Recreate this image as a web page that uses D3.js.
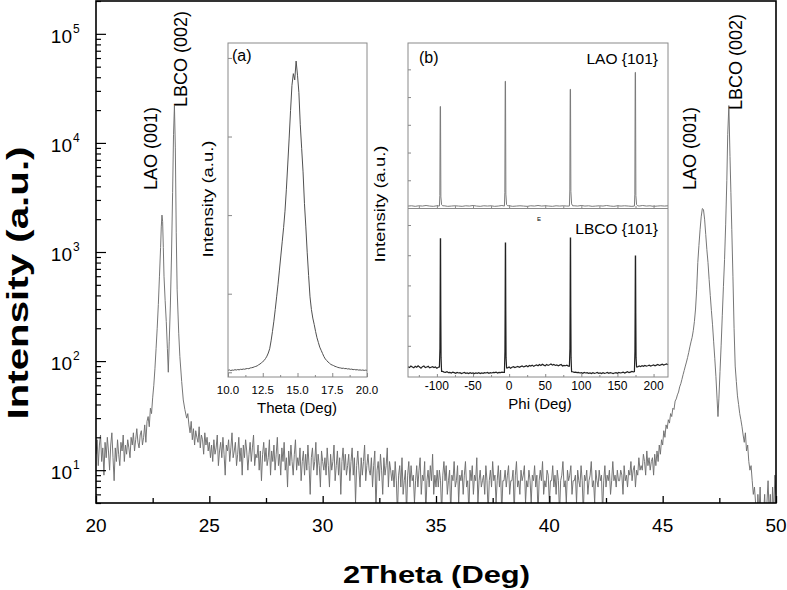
<!DOCTYPE html>
<html><head><meta charset="utf-8">
<script src="https://cdn.jsdelivr.net/npm/d3@7"></script>
<style>
body{margin:0;background:#fff}
svg{display:block}
text{font-family:"Liberation Sans",Arial,sans-serif;fill:#000}
</style>
</head><body>
<svg id="c" width="787" height="590"></svg>
<script>
// ---------------- DATA ----------------
// Main 2Theta scan (step 0.05 deg in the background segments)
const scanStep = 0.05;
const bgLeftStart = 20.0;
const bgLeft = [14,19,11,17,21,12,16,9,18,13,20,15,10,17,22,13,8,16,12,19,14,11,18,15,21,12,17,14,19,16,13,20,17,22,15,19,24,18,16,21,23,17,20,26,18];
const leftPeaks = [[22.25,28],[22.3,31],[22.35,25],[22.4,37],[22.45,33],[22.5,46],[22.55,60],[22.6,85],[22.65,130],[22.7,200],[22.75,330],[22.8,600],[22.85,1100],[22.88,1700],[22.91,2180],[22.94,1900],[22.97,1100],[23.0,600],[23.05,360],[23.1,230],[23.15,130],[23.19,79],[23.23,150],[23.28,320],[23.33,900],[23.38,3500],[23.42,12000],[23.46,22000],[23.5,9000],[23.54,1500],[23.58,450],[23.65,180],[23.7,110],[23.78,65],[23.85,44],[23.92,36],[24.0,30],[24.05,33]];
const bgMidStart = 24.1;
const bgMid = [
26,22,28,19,24,17,23,20,18,25,16,21,19,14,22,17,20,15,18,13,
17,12,19,14,16,21,11,15,18,13,20,14,9,17,15,19,12,16,22,13,
15,18,11,14,20,12,16,9,17,13,19,15,10,14,18,12,16,21,11,14,
13,17,10,15,8,14,18,12,16,11,13,19,9,15,12,17,10,14,20,11,
14,9,16,12,18,10,13,7,15,11,17,12,9,14,19,10,13,11,16,8,
12,15,9,14,10,17,11,6,13,16,10,12,18,9,14,11,7,15,12,10,
13,9,16,11,7,14,10,12,17,8,11,15,9,13,6,12,16,10,14,9,
11,14,8,12,16,9,13,5,11,15,10,7,13,9,12,17,8,11,14,10,
9,13,7,11,15,4,10,12,8,14,10,6,13,9,11,16,7,12,10,8,
10,7,12,8,4,9,11,7,13,6,8,10,4,9,12,7,11,8,9,5,
8,11,7,10,13,6,9,8,12,4,8,10,7,11,8,14,6,9,7,10,
7,10,8,4,9,12,8,11,6,8,10,4,9,8,12,7,8,11,5,9,
8,10,6,9,12,7,8,4,10,8,11,6,9,8,13,5,8,10,7,8,
9,6,11,8,4,8,10,7,12,8,9,5,8,11,7,10,4,8,8,10,
7,9,11,6,8,8,10,4,9,12,7,8,6,10,8,9,11,5,8,7,
10,8,5,9,8,11,7,9,4,8,10,8,12,6,8,7,10,9,5,8,
8,11,7,9,6,10,8,4,8,9,12,7,8,5,10,8,9,11,6,8,
8,9,5,10,8,7,11,8,4,9,8,10,6,8,9,12,7,8,5,10,
8,7,10,8,9,4,8,11,7,9,8,10,6,8,12,8,9,7,10,8,
8,10,9,6,11,8,9,7,10,9,12,8,10,11,7,10,9,13,10,11,
10,14,12,9,15,11,13,10,12];
const rightPeaks = [[44.55,13],[44.6,9],[44.65,14],[44.7,11],[44.75,15],[44.8,12],[44.85,17],[44.9,14],[44.95,19],[45.0,17],[45.05,23],[45.1,20],[45.15,26],[45.2,24],[45.25,29],[45.3,27],[45.35,33],[45.4,31],[45.45,37],[45.5,36],[45.55,43],[45.6,45],[45.65,49],[45.7,52],[45.75,58],[45.8,62],[45.85,68],[45.9,75],[45.95,82],[46.0,90],[46.05,98],[46.1,108],[46.15,120],[46.2,135],[46.25,150],[46.3,165],[46.35,190],[46.4,230],[46.45,300],[46.5,450],[46.55,800],[46.6,1150],[46.65,1600],[46.7,2100],[46.75,2500],[46.8,2450],[46.85,2000],[46.9,1450],[46.95,1050],[47.0,800],[47.05,560],[47.1,400],[47.15,290],[47.2,215],[47.25,150],[47.3,105],[47.35,72],[47.4,45],[47.44,31],[47.48,45],[47.53,80],[47.58,140],[47.63,260],[47.68,480],[47.73,850],[47.78,1800],[47.83,4500],[47.87,12000],[47.92,22000],[47.97,7500],[48.01,3500],[48.05,1600],[48.1,600],[48.15,200],[48.2,90],[48.25,65],[48.3,48],[48.35,40],[48.4,33],[48.45,29],[48.5,25],[48.55,21],[48.6,18],[48.65,22],[48.7,15],[48.75,17],[48.8,12],[48.85,10],[48.9,11],[48.95,8],[49.0,6],[49.05,7]];
const bgRightStart = 49.1;
const bgRight = [5,3,6,4,7,3,5,4,6,3,5,8,4,6,3,7,4,9,6];

const xTicksMain = [20,25,30,35,40,45,50];
const yTicksMain = [10,100,1000,10000,100000];
const yExpMain = ["1","2","3","4","5"];

const peakLabels = [
  {text:"LAO (001)", at:22.91},
  {text:"LBCO (002)", at:23.46},
  {text:"LAO (001)", at:46.77},
  {text:"LBCO (002)", at:47.92}
];

// Inset (a): theta rocking curve (step 0.1 deg)
const thetaStart = 10.0, thetaStep = 0.1;
const rockingValues = [25,30,22,28,26,33,29,35,31,38,
36,41,39,45,48,46,55,58,62,70,
75,82,95,105,120,135,150,175,205,245,
300,400,520,650,800,960,1120,1300,1480,1660,
1840,2050,2330,2650,2980,3330,3650,3800,3720,3960,
3780,3560,3150,2850,2550,2150,1850,1520,1230,960,
800,690,610,520,440,380,320,280,240,200,
170,150,130,115,100,92,85,75,70,62,
58,55,50,52,46,48,42,44,38,40,
34,36,31,33,28,30,26,29,24,27,25];
const thetaTicks = [10,12.5,15,17.5,20];
const thetaTickLabels = ["10.0","12.5","15.0","17.5","20.0"];

// Inset (b): phi scans
const phiTicks = [-100,-50,0,50,100,150,200];
const laoBaseStart = -140, laoBaseStep = 5;
const laoBase = [0.07,0.08,0.06,0.08,0.07,0.09,0.07,0.06,0.08,0.07,
0.08,0.06,0.07,0.08,0.07,0.06,0.08,0.07,0.09,0.07,
0.06,0.08,0.07,0.08,0.06,0.07,0.09,0.07,0.08,0.06,
0.07,0.08,0.07,0.06,0.08,0.07,0.09,0.07,0.08,0.07,
0.06,0.08,0.07,0.08,0.07,0.06,0.08,0.07,0.09,0.07,
0.08,0.06,0.07,0.08,0.07,0.09,0.07,0.06,0.08,0.07,
0.08,0.07,0.06,0.08,0.07,0.09,0.07,0.08,0.06,0.07,
0.08,0.07,0.08];
const laoPeaks = [
 [[-96.5,0.07],[-95.9,0.45],[-95.4,3.66],[-95.0,3.66],[-94.5,0.4],[-93.5,0.12],[-92,0.08]],
 [[-6.5,0.07],[-5.9,0.55],[-5.4,4.57],[-5.0,4.57],[-4.5,0.5],[-3.5,0.12],[-2,0.08]],
 [[83.5,0.07],[84.1,0.65],[84.6,4.28],[85.0,4.28],[85.5,0.6],[86.5,0.15],[88,0.08]],
 [[173.5,0.07],[174.1,0.5],[174.6,4.89],[175.0,4.89],[175.5,0.45],[176.5,0.12],[178,0.08]]
];
const lbcoBaseStart = -140, lbcoBaseStep = 2;
const lbcoBase = [
0.31,0.28,0.33,0.30,0.27,0.32,0.29,0.34,0.30,0.26,0.31,0.33,0.28,0.30,0.32,0.27,0.29,0.31,0.28,0.30,0.26,0.29,
0.3,0.2,
0.15,0.13,0.12,0.14,0.11,0.12,0.10,0.13,0.11,0.09,0.12,0.10,0.11,0.08,0.10,0.12,0.09,0.10,0.08,0.11,
0.09,0.10,0.08,0.10,0.09,0.11,0.08,0.10,0.09,0.11,0.10,0.12,0.09,0.11,0.10,0.12,0.11,0.13,0.10,0.12,
0.11,0.13,0.12,
0.2,0.3,
0.27,0.30,0.26,0.29,0.31,0.28,0.30,0.32,0.29,0.31,0.33,0.30,0.32,0.34,0.31,0.35,0.33,0.36,0.32,0.35,
0.37,0.34,0.38,0.35,0.39,0.36,0.34,0.38,0.35,0.37,0.40,0.36,0.38,0.35,0.37,0.34,0.36,0.38,0.33,0.35,
0.34,0.36,0.33,
0.3,0.2,
0.14,0.12,0.13,0.11,0.12,0.10,0.11,0.09,0.12,0.10,0.11,0.09,0.10,0.08,0.11,0.09,0.10,0.12,0.09,0.10,
0.08,0.11,0.09,0.10,0.12,0.09,0.11,0.10,0.08,0.10,0.11,0.09,0.12,0.10,0.11,0.13,0.10,0.12,0.14,0.11,
0.13,0.15,0.14,
0.2,0.3,
0.30,0.33,0.31,0.34,0.32,0.35,0.33,0.34,0.36,0.33,0.35,0.37,0.34,0.36,0.38,0.35,0.37,0.39,0.36,0.38,0.40,0.37];
const lbcoPeaks = [
 [[-96.5,0.3],[-95.8,0.9],[-95.5,2.3],[-95.2,4.54],[-94.9,4.54],[-94.6,2.2],[-94.2,0.6],[-93.5,0.15]],
 [[-6.5,0.12],[-5.8,0.8],[-5.5,2.3],[-5.2,4.40],[-4.9,4.40],[-4.6,2.2],[-4.2,0.6],[-3.5,0.27]],
 [[83.5,0.33],[84.2,0.9],[84.5,2.4],[84.8,4.57],[85.1,4.57],[85.4,2.3],[85.8,0.6],[86.5,0.14]],
 [[173.5,0.15],[174.2,0.8],[174.5,2.2],[174.8,3.97],[175.1,3.97],[175.4,2.1],[175.8,0.6],[176.5,0.3]]
];

// ---------------- BUILD SERIES ----------------
const scan = [
  ...bgLeft.map((v,i)=>[bgLeftStart+i*scanStep, v]),
  ...leftPeaks,
  ...bgMid.map((v,i)=>[bgMidStart+i*scanStep, v]),
  ...rightPeaks,
  ...bgRight.map((v,i)=>[bgRightStart+i*scanStep, v])
];
const rocking = rockingValues.map((v,i)=>[thetaStart+i*thetaStep, v]);
function merge(baseStart, baseStep, base, peaks){
  const pts = base.map((v,i)=>[baseStart+i*baseStep, v])
    .filter(p => !peaks.some(g => p[0]>=g[0][0] && p[0]<=g[g.length-1][0]));
  peaks.forEach(g => g.forEach(p => pts.push(p)));
  return pts.sort((a,b)=>a[0]-b[0]);
}
const laoPhi = merge(laoBaseStart, laoBaseStep, laoBase, laoPeaks);
const lbcoPhi = merge(lbcoBaseStart, lbcoBaseStep, lbcoBase, lbcoPeaks);

// ---------------- MAIN CHART ----------------
const svg = d3.select('#c');
const M = {l:96, r:776, t:1, b:503};
const x = d3.scaleLinear().domain([20,50]).range([M.l, M.r]);
const y = d3.scaleLog().domain([5,2e5]).range([M.b, M.t]);

svg.append('defs').append('clipPath').attr('id','clipMain')
  .append('rect').attr('x',M.l).attr('y',M.t).attr('width',M.r-M.l).attr('height',M.b-M.t);

svg.append('path').datum(scan)
  .attr('clip-path','url(#clipMain)')
  .attr('fill','none').attr('stroke','#6f6f6f').attr('stroke-width',0.95)
  .attr('d', d3.line().x(d=>x(d[0])).y(d=>y(d[1])));

function cleanAxis(g, col){ g.select('.domain').remove(); g.selectAll('line').attr('stroke',col||'#000'); g.selectAll('text').remove(); }

// y ticks
const yMinor = [];
[1,10,100,1000,10000,100000].forEach(d=>{ for(let k=2;k<=9;k++){ const v=d*k; if(v>=5 && v<=2e5) yMinor.push(v);} });
svg.append('g').attr('transform',`translate(${M.l},0)`)
  .call(d3.axisLeft(y).tickValues(yMinor).tickSize(-5).tickFormat('')).call(g=>cleanAxis(g))
  .selectAll('line').attr('stroke-width',1.2);
svg.append('g').attr('transform',`translate(${M.l},0)`)
  .call(d3.axisLeft(y).tickValues(yTicksMain).tickSize(-10).tickFormat('')).call(g=>cleanAxis(g))
  .selectAll('line').attr('stroke-width',1.2);

const yl = svg.append('g');
yTicksMain.forEach((v,i)=>{
  yl.append('text').attr('x',72).attr('y',y(v)+9).attr('text-anchor','end')
    .attr('font-size',19).text('10');
  yl.append('text').attr('x',73).attr('y',y(v)-1).attr('font-size',12).text(yExpMain[i]);
});

// x ticks
const xMinor = [22.5,27.5,32.5,37.5,42.5,47.5];
svg.append('g').attr('transform',`translate(0,${M.b})`)
  .call(d3.axisBottom(x).tickValues(xTicksMain).tickSize(-7).tickFormat('')).call(g=>cleanAxis(g))
  .selectAll('line').attr('stroke-width',1.3);
svg.append('g').attr('transform',`translate(0,${M.b})`)
  .call(d3.axisBottom(x).tickValues(xMinor).tickSize(-5).tickFormat('')).call(g=>cleanAxis(g))
  .selectAll('line').attr('stroke-width',1.3);
svg.append('g').selectAll('text').data(xTicksMain).join('text')
  .attr('x',d=>x(d)).attr('y',532).attr('text-anchor','middle').attr('font-size',19)
  .text(d=>d);

// frame
svg.append('rect').attr('x',M.l).attr('y',M.t).attr('width',M.r-M.l).attr('height',M.b-M.t)
  .attr('fill','none').attr('stroke','#000').attr('stroke-width',1.6);

// titles
svg.append('text').attr('x',436.5).attr('y',583).attr('text-anchor','middle')
  .attr('font-size',24).attr('font-weight','bold')
  .attr('textLength',187).attr('lengthAdjust','spacingAndGlyphs').text('2Theta (Deg)');
svg.append('text').attr('transform','translate(28,283) rotate(-90)').attr('text-anchor','middle')
  .attr('font-size',29).attr('font-weight','bold')
  .attr('textLength',273).attr('lengthAdjust','spacingAndGlyphs').text('Intensity (a.u.)');

// peak labels (rotated), placed just beside each peak
const labelOffsets = [[-5,190],[13,107],[-7,190],[13,110]];
peakLabels.forEach((p,i)=>{
  svg.append('text').attr('transform',`translate(${x(p.at)+labelOffsets[i][0]},${labelOffsets[i][1]}) rotate(-90)`)
    .attr('font-size',18).text(p.text);
});

// ---------------- INSET (a) ----------------
const A = {l:228, r:367, t:43, b:377};
const xa = d3.scaleLinear().domain([10,20]).range([A.l, A.r]);
const ya = d3.scaleLinear().domain([-60,4190]).range([A.b, A.t]);
svg.append('rect').attr('x',A.l).attr('y',A.t).attr('width',A.r-A.l).attr('height',A.b-A.t)
  .attr('fill','#fff').attr('stroke','none');
svg.append('path').datum(rocking).attr('fill','none').attr('stroke','#505050').attr('stroke-width',1)
  .attr('d', d3.line().x(d=>xa(d[0])).y(d=>ya(d[1])));
svg.append('g').attr('transform',`translate(${A.l},0)`)
  .call(d3.axisLeft(ya).tickValues([0,1000,2000,3000,4000]).tickSize(-4).tickFormat('')).call(g=>cleanAxis(g,'#888'));
svg.append('g').attr('transform',`translate(0,${A.b})`)
  .call(d3.axisBottom(xa).tickValues([11.25,13.75,16.25,18.75]).tickSize(-2).tickFormat('')).call(g=>cleanAxis(g,'#888'));
svg.append('g').attr('transform',`translate(0,${A.b})`)
  .call(d3.axisBottom(xa).tickValues(thetaTicks).tickSize(-4).tickFormat('')).call(g=>cleanAxis(g,'#888'));
svg.append('rect').attr('x',A.l).attr('y',A.t).attr('width',A.r-A.l).attr('height',A.b-A.t)
  .attr('fill','none').attr('stroke','#8a8a8a').attr('stroke-width',1);
svg.append('g').selectAll('text').data(thetaTicks).join('text')
  .attr('x',d=>xa(d)).attr('y',394).attr('text-anchor','middle').attr('font-size',11.5).attr('fill','#222')
  .text((d,i)=>thetaTickLabels[i]);
svg.append('text').attr('x',297).attr('y',413).attr('text-anchor','middle').attr('font-size',15)
  .attr('fill','#222').text('Theta (Deg)');
svg.append('text').attr('transform','translate(213,199) rotate(-90)').attr('text-anchor','middle')
  .attr('font-size',14.5).attr('fill','#222').attr('textLength',117).attr('lengthAdjust','spacingAndGlyphs')
  .text('Intensity (a.u.)');
svg.append('text').attr('x',232).attr('y',61).attr('font-size',16).text('(a)');

// ---------------- INSET (b) ----------------
const B = {l:408, r:668, t:43, mid:208.5, b:377};
const xb = d3.scaleLinear().domain([-140,220]).range([B.l, B.r]);
const ybT = d3.scaleLinear().domain([0,5.95]).range([208, B.t]);
const ybB = d3.scaleLinear().domain([0,5.53]).range([376, 209]);
svg.append('rect').attr('x',B.l).attr('y',B.t).attr('width',B.r-B.l).attr('height',B.b-B.t)
  .attr('fill','#fff').attr('stroke','none');
svg.append('path').datum(laoPhi).attr('fill','none').attr('stroke','#7a7a7a').attr('stroke-width',1)
  .attr('d', d3.line().x(d=>xb(d[0])).y(d=>ybT(d[1])));
svg.append('path').datum(lbcoPhi).attr('fill','none').attr('stroke','#222').attr('stroke-width',1.2)
  .attr('d', d3.line().x(d=>xb(d[0])).y(d=>ybB(d[1])));
const phiMinor = [-125,-75,-25,25,75,125,175];
[208, B.b].forEach(yy=>{
  svg.append('g').attr('transform',`translate(0,${yy})`)
    .call(d3.axisBottom(xb).tickValues(phiTicks).tickSize(-3).tickFormat('')).call(g=>cleanAxis(g,'#888'));
  svg.append('g').attr('transform',`translate(0,${yy})`)
    .call(d3.axisBottom(xb).tickValues(phiMinor).tickSize(-2).tickFormat('')).call(g=>cleanAxis(g,'#888'));
});
svg.append('g').attr('transform',`translate(${B.l},0)`)
  .call(d3.axisLeft(ybT).tickValues([1,2,3,4,5]).tickSize(-3).tickFormat('')).call(g=>cleanAxis(g,'#888'));
svg.append('g').attr('transform',`translate(${B.l},0)`)
  .call(d3.axisLeft(ybB).tickValues([1,2,3,4,5]).tickSize(-3).tickFormat('')).call(g=>cleanAxis(g,'#888'));
svg.append('rect').attr('x',B.l).attr('y',B.t).attr('width',B.r-B.l).attr('height',B.b-B.t)
  .attr('fill','none').attr('stroke','#8a8a8a').attr('stroke-width',1);
svg.append('line').attr('x1',B.l).attr('x2',B.r).attr('y1',B.mid).attr('y2',B.mid)
  .attr('stroke','#8a8a8a').attr('stroke-width',1.2);
svg.append('g').selectAll('text').data(phiTicks).join('text')
  .attr('x',d=>xb(d)).attr('y',390).attr('text-anchor','middle').attr('font-size',12).attr('fill','#222')
  .text(d=>d);
svg.append('text').attr('x',540).attr('y',409).attr('text-anchor','middle').attr('font-size',15)
  .attr('fill','#222').text('Phi (Deg)');
svg.append('text').attr('transform','translate(385,204) rotate(-90)').attr('text-anchor','middle')
  .attr('font-size',14.5).attr('fill','#222').attr('textLength',117).attr('lengthAdjust','spacingAndGlyphs')
  .text('Intensity (a.u.)');
svg.append('text').attr('x',419).attr('y',63).attr('font-size',16).text('(b)');
svg.append('text').attr('x',658).attr('y',64).attr('text-anchor','end').attr('font-size',15.5).attr('fill','#222').text('LAO {101}');
svg.append('text').attr('x',658).attr('y',234).attr('text-anchor','end').attr('font-size',15.5).attr('fill','#222').text('LBCO {101}');
svg.append('text').attr('x',539).attr('y',221).attr('text-anchor','middle').attr('font-size',6).attr('fill','#777').text('E');
</script>
</body></html>
